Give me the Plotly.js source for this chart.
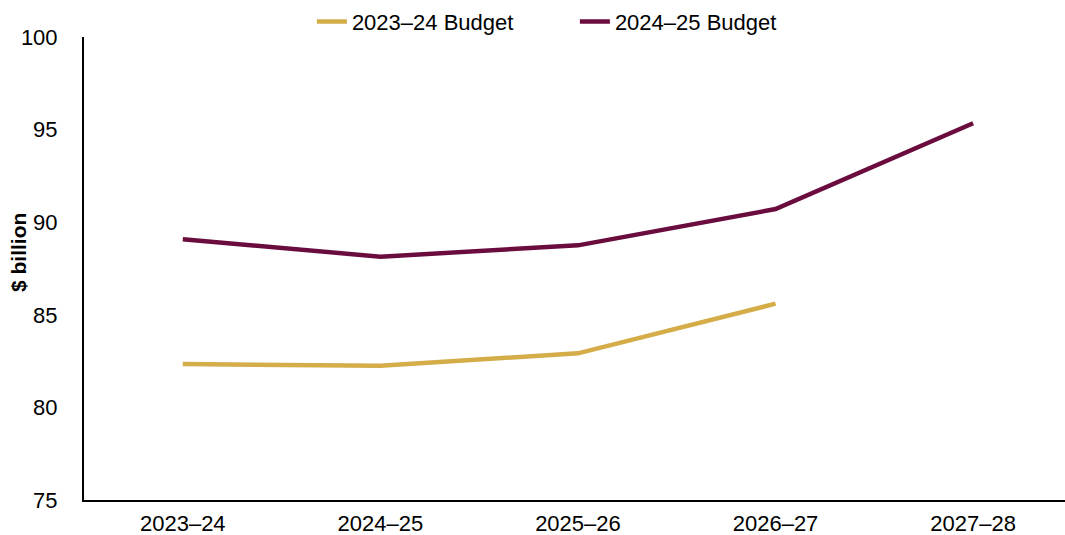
<!DOCTYPE html>
<html>
<head>
<meta charset="utf-8">
<script src="https://cdn.plot.ly/plotly-3.0.1.min.js"></script>
<style>html,body{margin:0;padding:0;background:#fff;}#chart{width:1065px;height:535px;}</style>
</head>
<body>
<div id="chart"></div>
<script>
const categories = ["2023–24", "2024–25", "2025–26", "2026–27", "2027–28"];
const budget2023 = [82.34, 82.25, 82.92, 85.60, null];
const budget2024 = [89.08, 88.14, 88.75, 90.71, 95.34];
const yTicks = [75, 80, 85, 90, 95, 100];
const yTitle = "$ billion";

const xIdx = categories.map((c, i) => i);

const traces = [
  {x: xIdx, y: budget2023, name: "2023–24 Budget", type: "scatter", mode: "lines",
   line: {color: "#D4AC48", width: 4.5}},
  {x: xIdx, y: budget2024, name: "2024–25 Budget", type: "scatter", mode: "lines",
   line: {color: "#6A0C3D", width: 4.5}}
];

const layout = {
  width: 1065, height: 535,
  margin: {l: 84, r: 0, t: 37, b: 35, autoexpand: false},
  paper_bgcolor: "#fff", plot_bgcolor: "#fff",
  font: {family: "Liberation Sans, Arial, sans-serif", size: 22, color: "#000"},
  showlegend: true,
  legend: {orientation: "h", x: 0.2323, xanchor: "left", y: 1.033, yanchor: "middle",
           font: {size: 22}, entrywidth: 218, entrywidthmode: "pixels", tracegroupgap: 0},
  xaxis: {
    range: [-0.5, 4.465], tickmode: "array", tickvals: xIdx, ticktext: categories,
    showline: true, linecolor: "#000", linewidth: 2, showgrid: false, zeroline: false,
    ticks: "", ticklen: 0, tickfont: {size: 22}, ticklabelstandoff: 3
  },
  yaxis: {
    range: [75, 100], tickmode: "array", tickvals: yTicks, ticktext: yTicks.map(String),
    showline: true, linecolor: "#000", linewidth: 2, showgrid: false, zeroline: false,
    ticks: "", ticklen: 0, tickfont: {size: 22}, ticklabelstandoff: 20
  },
  annotations: [{
    text: "<b>" + yTitle + "</b>", xref: "paper", yref: "paper",
    x: -0.0673, y: 0.5356, xanchor: "center", yanchor: "middle",
    textangle: -90, showarrow: false, font: {size: 21}
  }]
};

Plotly.newPlot("chart", traces, layout, {displayModeBar: false});
</script>
</body>
</html>
